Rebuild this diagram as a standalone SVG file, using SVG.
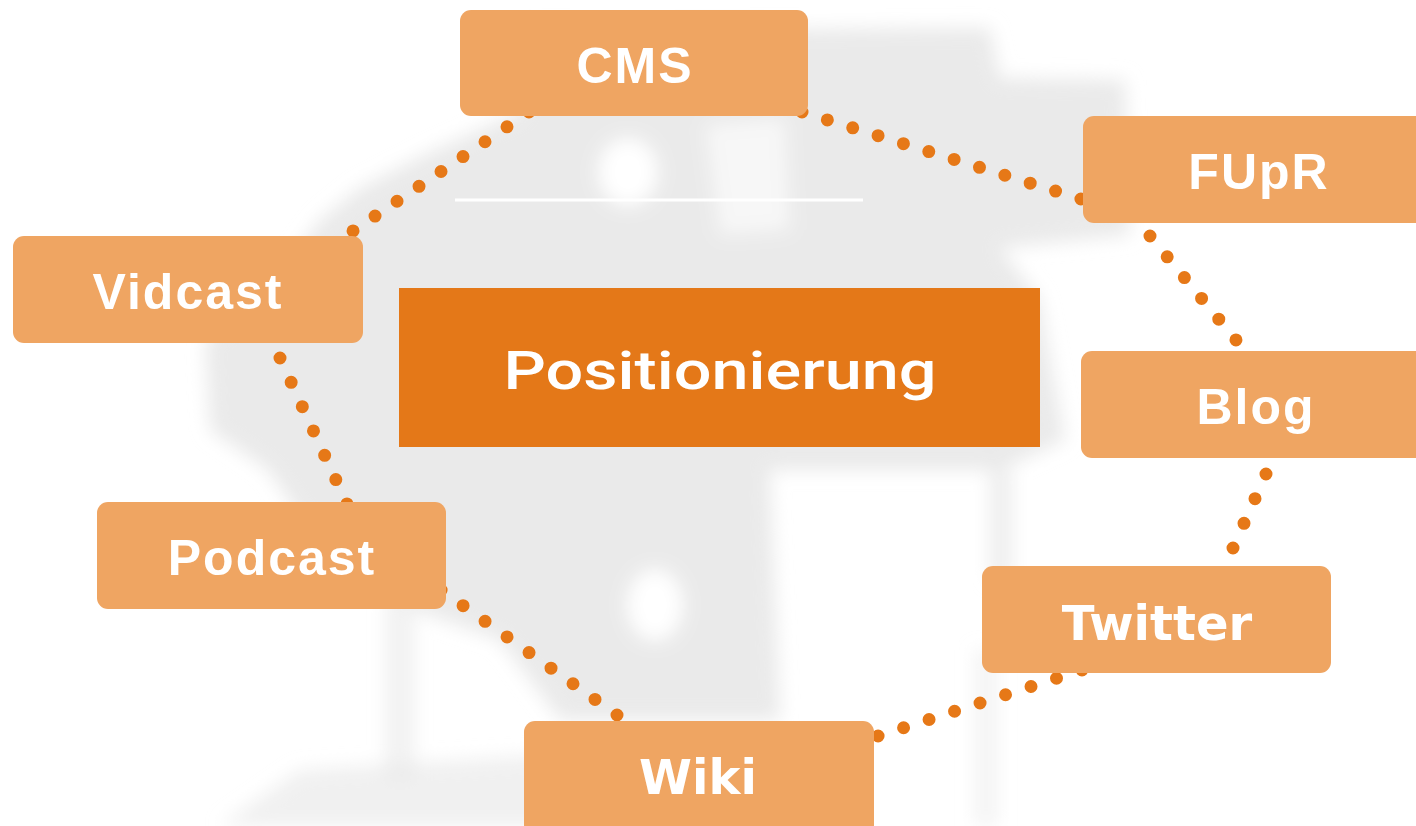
<svg xmlns="http://www.w3.org/2000/svg" width="1416" height="826" viewBox="0 0 1416 826">
  <defs>
    <filter id="blur" x="-20%" y="-20%" width="140%" height="140%">
      <feGaussianBlur stdDeviation="9"/>
    </filter>
    <style>
      .bg { fill: #EAEAEA; }
      .hole { fill: #FFFFFF; }
      .box { fill: #EFA562; }
      .center { fill: #E47818; }
      .dots { fill: none; stroke: #E67817; stroke-width: 13; stroke-linecap: round; }
      .lbl { fill: #FFFFFF; font-family: "Liberation Sans", Arial, sans-serif; font-weight: bold; font-size: 50px; text-anchor: middle; letter-spacing: 2px; }
      .lbl-dv { fill: #FFFFFF; font-family: "DejaVu Sans", sans-serif; font-weight: bold; font-size: 48px; text-anchor: middle; }
      .lbl-c { fill: #FFFFFF; font-family: Roboto, "Noto Sans", sans-serif; font-weight: 500; font-size: 53px; text-anchor: middle; }
    </style>
  </defs>

  <rect x="0" y="0" width="1416" height="826" fill="#FFFFFF"/>

  <!-- blurred background picture -->
  <g id="background" filter="url(#blur)">
    <path class="bg" d="M320,220 L360,188 L430,152 L520,112 L530,30 L990,28 L1000,78 L1125,80 L1130,235 L1000,248 L1040,300 L1065,440 L1000,470 L770,470 L780,720 L560,720 L500,640 L420,612 L330,560 L268,470 L210,430 L205,340 L260,300 Z"/>
    <ellipse class="hole" cx="628" cy="172" rx="30" ry="34"/>
    <path class="hole" d="M705,125 L785,118 L790,230 L720,235 Z" opacity="0.6"/>
    <ellipse class="hole" cx="655" cy="605" rx="28" ry="36"/>
    <path class="bg" d="M220,826 L300,770 L550,755 L560,826 Z" opacity="0.7"/>
    <rect class="bg" x="385" y="600" width="30" height="180" opacity="0.6"/>
    <rect class="bg" x="990" y="470" width="22" height="110" opacity="0.8"/>
    <rect class="bg" x="975" y="650" width="22" height="176" opacity="0.5"/>
  </g>

  <!-- white divider line -->
  <line x1="455" y1="200" x2="863" y2="200" stroke="#FFFFFF" stroke-width="3"/>

  <!-- dotted connectors -->
  <g id="connectors" class="dots">
    <line x1="529" y1="112" x2="353" y2="231" stroke-dasharray="0 26.55"/>
    <line x1="802" y1="112" x2="1081" y2="199" stroke-dasharray="0 26.56"/>
    <line x1="1150" y1="236" x2="1236" y2="340" stroke-dasharray="0 26.98"/>
    <line x1="1266" y1="474" x2="1233" y2="548" stroke-dasharray="0 27.0"/>
    <line x1="1082" y1="670" x2="878" y2="736" stroke-dasharray="0 26.79"/>
    <line x1="617" y1="715" x2="441" y2="590" stroke-dasharray="0 26.97"/>
    <line x1="280" y1="358" x2="347" y2="504" stroke-dasharray="0 26.76"/>
  </g>

  <g id="node-cms">
    <rect class="box" x="460" y="10" width="348" height="106" rx="11"/>
    <text class="lbl" x="635" y="83">CMS</text>
  </g>
  <g id="node-fupr">
    <rect class="box" x="1083" y="116" width="350" height="107" rx="11"/>
    <text class="lbl" x="1259" y="189">FUpR</text>
  </g>
  <g id="node-vidcast">
    <rect class="box" x="13" y="236" width="350" height="107" rx="11"/>
    <text class="lbl" x="188" y="309">Vidcast</text>
  </g>
  <g id="node-blog">
    <rect class="box" x="1081" y="351" width="350" height="107" rx="11"/>
    <text class="lbl" x="1256" y="424">Blog</text>
  </g>
  <g id="node-podcast">
    <rect class="box" x="97" y="502" width="349" height="107" rx="11"/>
    <text class="lbl" x="272" y="575">Podcast</text>
  </g>
  <g id="node-twitter">
    <rect class="box" x="982" y="566" width="349" height="107" rx="11"/>
    <text class="lbl-dv" x="1157" y="640">Twitter</text>
  </g>
  <g id="node-wiki">
    <rect class="box" x="524" y="721" width="350" height="115" rx="11"/>
    <text class="lbl-dv" x="698" y="794">Wiki</text>
  </g>
  <g id="node-positionierung">
    <rect class="center" x="399" y="288" width="641" height="159"/>
    <text class="lbl-c" x="720" y="389" textLength="433" lengthAdjust="spacingAndGlyphs">Positionierung</text>
  </g>
</svg>
